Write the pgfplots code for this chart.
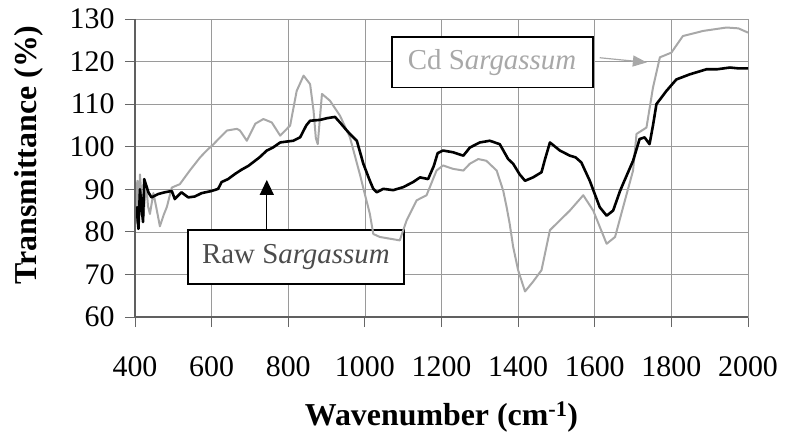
\documentclass[border=0pt]{standalone}
\usepackage{fontspec}
\setmainfont{Liberation Serif}
\usepackage{pgfplots}
\pgfplotsset{compat=1.18}
\usetikzlibrary{arrows.meta}
\definecolor{cdgray}{HTML}{A8A8A8}
\definecolor{gridc}{HTML}{9A9A9A}
\pgfplotstableread{
x y
404 86
409 80.7
413 90
418 85
421 82.3
424 92.4
435 89.3
443 88.1
461 88.9
478 89.3
496 89.6
504 87.7
521 89.3
539 88.1
556 88.3
574 89.1
600 89.6
617 90.1
626 91.7
643 92.4
661 93.6
678 94.6
696 95.5
709 96.4
725 97.5
744 99.1
760 99.8
779 101
795 101.2
813 101.4
831 102.2
847 105
857 106.1
883 106.3
901 106.7
922 107
935 105.7
951 104
961 103
979 101.4
996 96
1013 92
1022 90.1
1031 89.3
1048 90.1
1074 89.8
1100 90.5
1126 91.7
1144 92.8
1165 92.4
1180 95.5
1190 98.5
1204 99.1
1230 98.7
1257 97.9
1274 99.8
1300 101
1326 101.4
1352 100.6
1374 97.1
1387 96
1404 93.5
1418 92
1439 92.8
1461 94
1470 97
1483 101
1509 99.1
1535 97.9
1550 97.5
1565 96.3
1587 92
1613 85.8
1631 83.8
1648 85
1666 89.6
1674 91.3
1700 96.7
1717 101.8
1730 102.2
1743 100.6
1752 105
1761 110
1787 113.1
1813 115.8
1848 117
1892 118.2
1920 118.2
1953 118.6
1975 118.4
2000 118.4
}\rawdata
\pgfplotstableread{
x y
403 82
406 92
409 84
413 93.5
418 87
422 83.4
426 88
430 90.4
434 86
439 84.2
448 89.1
455 86
465 81.3
475 84
483 85.8
496 90.4
517 91.2
543 94.4
570 97.5
587 99.1
605 100.6
620 102
640 103.8
666 104.2
674 103.8
692 101.4
714 105.4
735 106.5
757 105.7
779 102.6
805 105
822 113.1
840 116.7
857 114.7
866 108.5
872 102
877 100.6
882 106
888 112.4
909 110.8
935 107.3
961 102.2
987 93.5
1013 84.2
1022 79.5
1039 78.8
1065 78.4
1091 78
1109 82.7
1135 87.4
1161 88.6
1187 94.4
1204 95.6
1230 94.8
1257 94.4
1274 96
1296 97.1
1317 96.7
1344 94.4
1361 89.7
1370 85.8
1378 81.9
1387 76.5
1400 71
1418 66
1439 68.3
1461 71
1483 80.4
1509 82.7
1535 85
1570 88.6
1596 85
1631 77.2
1653 78.8
1674 85.8
1700 94.4
1709 103
1735 104.5
1752 113.9
1770 121
1800 122.1
1830 126
1883 127.2
1944 128
1975 127.8
2000 126.8
}\cddata
\begin{document}
\begin{tikzpicture}
\begin{axis}[
  at={(0,0)}, anchor=south west,
  scale only axis, width=613bp, height=298bp,
  xmin=400, xmax=2000, ymin=60, ymax=130,
  xtick={400,600,...,2000}, ytick={60,70,...,130},
  grid=major, grid style={gridc, line width=0.7bp},
  axis line style={gridc, line width=0.8bp},
  tick align=outside, major tick length=10bp,
  tick style={gray!80!black, line width=0.8bp},
  xtick pos=left, ytick pos=left,
  /pgf/number format/assume math mode=true,
  /pgf/number format/1000 sep={},
  tick label style={font=\fontsize{30}{36}\selectfont},
  xticklabel style={yshift=-26bp},
  yticklabel style={xshift=-7bp},
  every axis x label/.style={at={(axis description cs:0.5,0)}, yshift=-100bp, anchor=center},
  every axis y label/.style={at={(axis description cs:0,0.544)}, xshift=-106bp, rotate=90, anchor=center},
  label style={font=\fontsize{32}{38}\selectfont\bfseries},
  xlabel={Wavenumber (cm\textsuperscript{-1})},
  ylabel={Transmittance (\%)},
  clip=false,
]
\draw[black, line width=1.8bp, fill=white] (axis cs:1070,125.7) rectangle (axis cs:1595,113.9);
\node[text=cdgray, font=\fontsize{29}{34}\selectfont] at (axis cs:1332,119.8) {Cd S\textit{argassum}};
\draw[cdgray, line width=1.2bp, -{Triangle[length=14bp,width=11bp]}] (axis cs:1613,120.9) -- (axis cs:1736,119.8);
\draw[black, line width=1.8bp, fill=white] (axis cs:538,80.5) rectangle (axis cs:1102,67.8);
\node[text=black!70, font=\fontsize{29}{34}\selectfont] at (axis cs:820,74.2) {Raw S\textit{argassum}};
\draw[black, line width=1.3bp, -{Triangle[length=15bp,width=14bp]}] (axis cs:744,80.5) -- (axis cs:744,92.2);
\addplot[cdgray, line width=2bp, line join=round] table[x=x,y=y] {\cddata};
\addplot[black, line width=2.6bp, line join=round] table[x=x,y=y] {\rawdata};
\draw[gray!75!black, line width=1.2bp] (rel axis cs:0,1) -- (rel axis cs:0,0) -- (rel axis cs:1,0);
\end{axis}
\pgfresetboundingbox
\useasboundingbox (-135bp,-122bp) rectangle (653bp,317bp);
\end{tikzpicture}
\end{document}
